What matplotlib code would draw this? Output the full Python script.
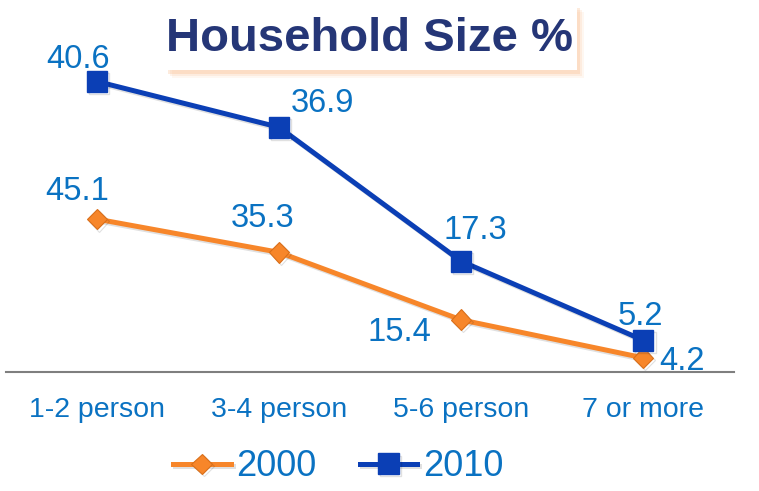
import matplotlib
matplotlib.use("Agg")
import matplotlib.pyplot as plt
import matplotlib.patheffects as pe
from matplotlib.patches import FancyBboxPatch
import numpy as np

categories = ["1-2 person", "3-4 person", "5-6 person", "7 or more"]
y2000 = [45.1, 35.3, 15.4, 4.2]
y2010 = [40.6, 36.9, 17.3, 5.2]

# stacked line chart: 2010 sits on top of 2000
stack2010 = np.array(y2000) + np.array(y2010)

ORANGE = "#F7862A"
BLUE = "#0B3FB5"
LABEL = "#0A72C2"
NAVY = "#253677"

plt.rcParams["font.family"] = ["Liberation Sans", "DejaVu Sans"]

fig = plt.figure(figsize=(7.59, 4.91), dpi=100)
ax = fig.add_axes([6 / 759, 119 / 491, 728 / 759, 339 / 491])

x = np.arange(len(categories))
shadow = [pe.SimpleLineShadow(offset=(1.5, -1.5), alpha=0.12), pe.Normal()]

ax.plot(x, y2000, color=ORANGE, lw=3.6, marker="D", ms=10.5,
        mfc=ORANGE, mec="#D96F1A", mew=0.8, label="2000", path_effects=shadow)
ax.plot(x, stack2010, color=BLUE, lw=3.6, marker="s", ms=15,
        mfc=BLUE, mec=BLUE, label="2010", path_effects=shadow)

# label offsets in points (dx, dy)
off2000 = [(-14, 20), (-12, 24), (-44, -9), (28, -3)]
off2010 = [(-14, 16), (31, 17), (10, 22), (-2, 17)]
for i in x:
    ax.annotate(f"{y2000[i]:.1f}", (x[i], y2000[i]), xytext=off2000[i],
                textcoords="offset points", ha="center", va="center",
                fontsize=23.5, color=LABEL)
    ax.annotate(f"{y2010[i]:.1f}", (x[i], stack2010[i]), xytext=off2010[i],
                textcoords="offset points", ha="center", va="center",
                fontsize=23.5, color=LABEL)

ax.set_xlim(-0.5, 3.5)
ax.set_ylim(0, 100)
ax.set_yticks([])
ax.set_xticks(x, categories)
ax.tick_params(axis="x", length=0, pad=18, labelsize=20.5, labelcolor=LABEL)
for s in ["top", "left", "right"]:
    ax.spines[s].set_visible(False)
ax.spines["bottom"].set_color("#7F7F7F")
ax.spines["bottom"].set_linewidth(1.5)
ax.patch.set_alpha(0)

# title box with soft orange shadow
for k, a in [(6, 0.10), (4, 0.15), (2, 0.25)]:
    fig.patches.append(FancyBboxPatch((166 / 759 + k / 759, 1 - 72 / 491 - k / 491),
                                      412 / 759, 66 / 491,
                                      boxstyle="square,pad=0", transform=fig.transFigure,
                                      fc="#FAB27A", ec="none", alpha=a, zorder=1))
fig.patches.append(FancyBboxPatch((163 / 759, 1 - 70 / 491), 414 / 759, 66 / 491,
                                  boxstyle="square,pad=0", transform=fig.transFigure,
                                  fc="white", ec="none", zorder=2))
fig.text(369 / 759, 1 - 39 / 491, "Household Size %", ha="center", va="center",
         fontsize=34, fontweight="bold", color=NAVY, zorder=3)

fig.legend(loc="center", bbox_to_anchor=(338 / 759, 1 - 467 / 491), ncol=2,
           frameon=False, fontsize=26, labelcolor=LABEL, handlelength=1.6,
           handletextpad=0.15, columnspacing=1.2)

fig.savefig("out.png", dpi=100)
